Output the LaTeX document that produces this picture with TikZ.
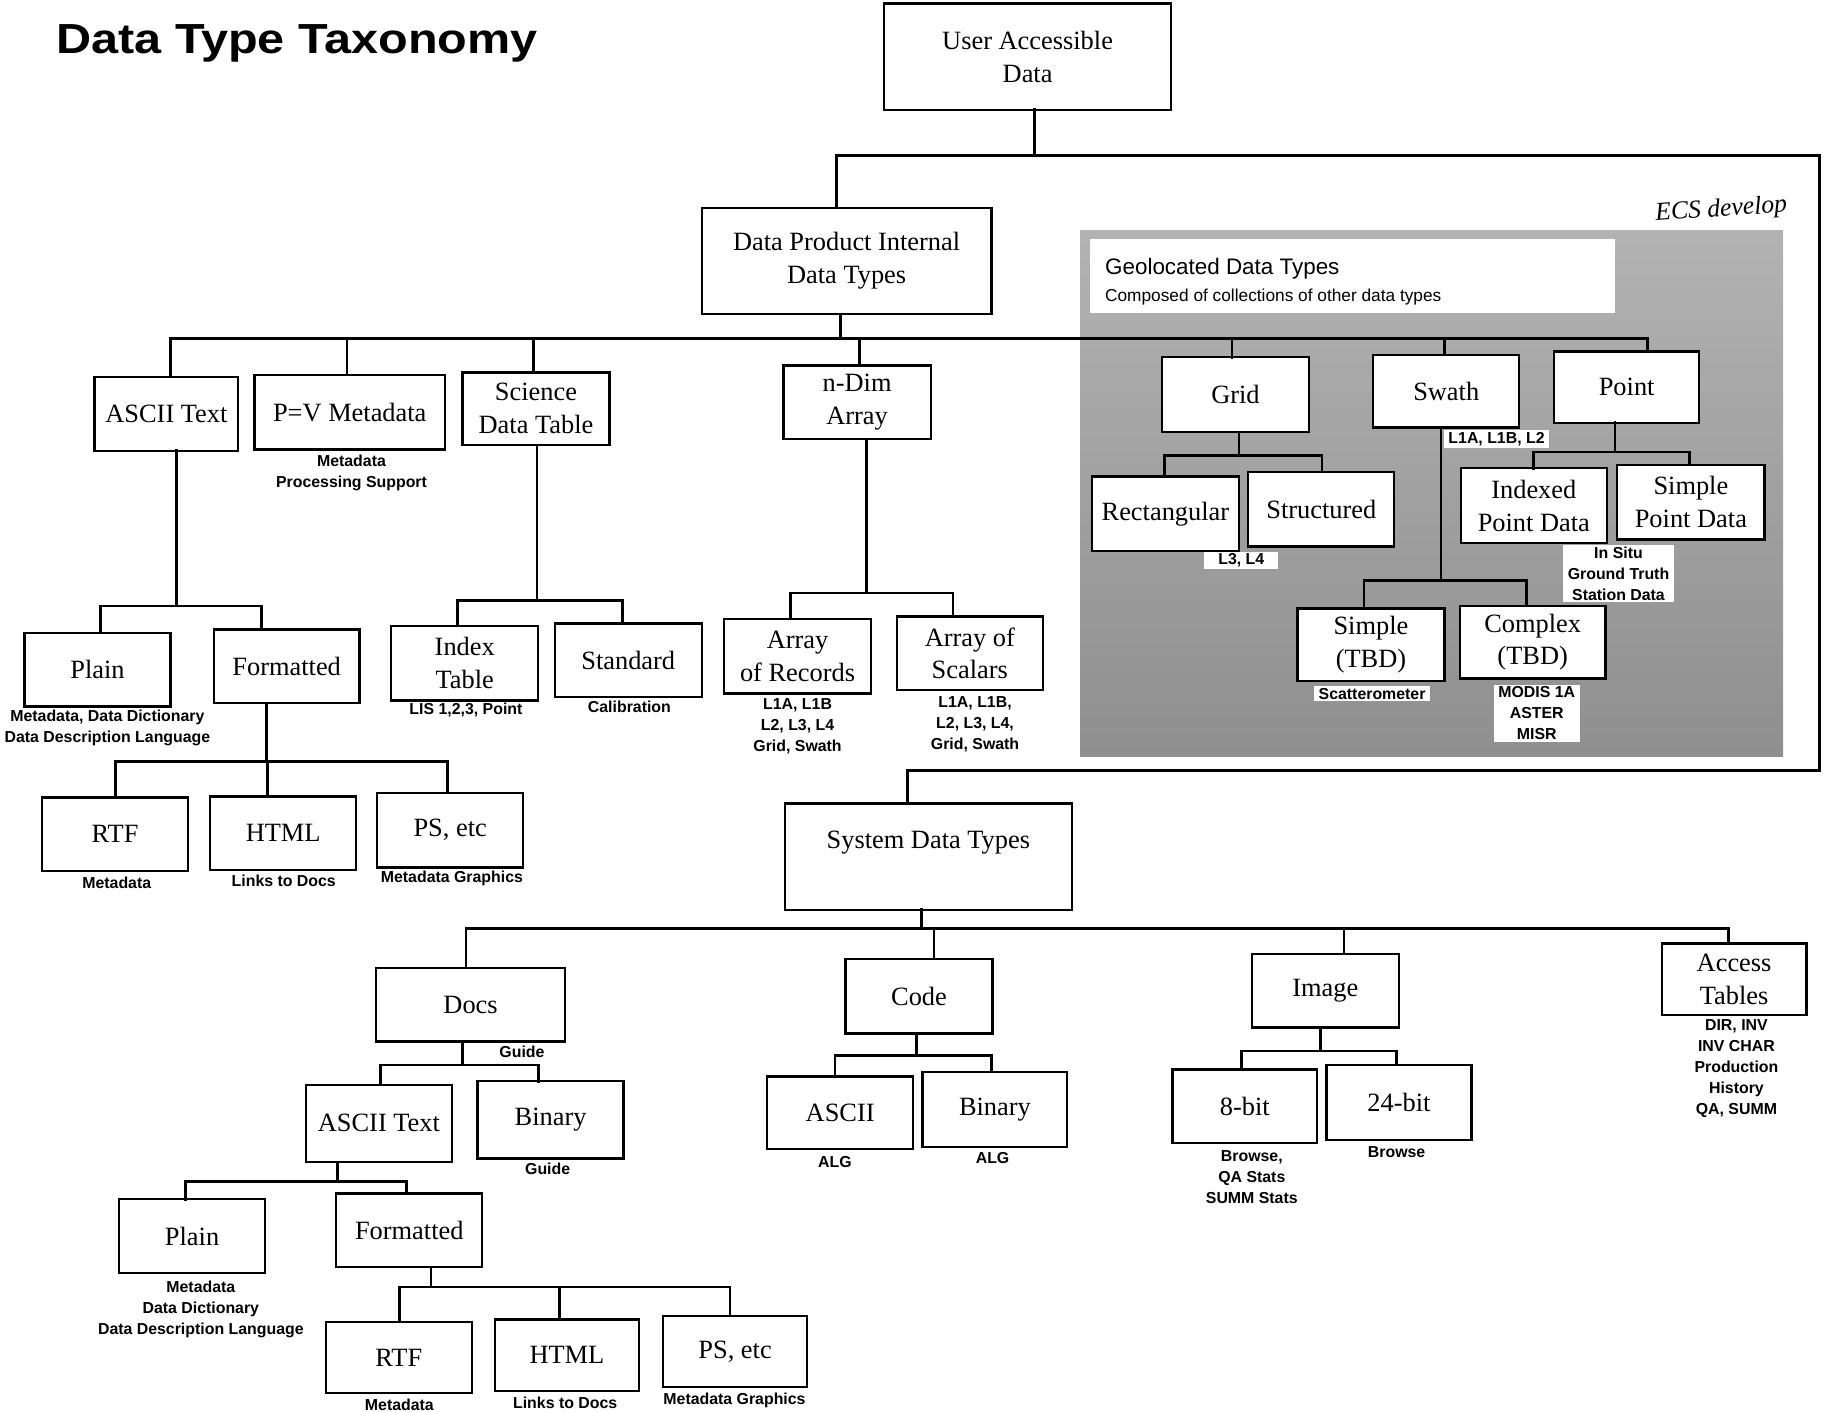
\documentclass[tikz,border=0pt]{standalone}
\usepackage{fontspec}
\setmainfont{Liberation Serif}
\setsansfont{Liberation Sans}

% a framed box given by its left, top, right and bottom edges
\newcommand\mkbox[6]{\node[box, minimum width={(#4-#2)/2}, minimum height={(#5-#3)/2}] (#1) at ({(#2+#4)/2},{(#3+#5)/2}) {#6};}
% parent drop, bus and child drops: parent, drop x, bus y, children (name/x), leftmost, rightmost
\newcommand\fan[6]{%
  \coordinate (#1-out) at (#2,#3);
  \draw[conn] (#1.south -| #1-out) -- (#1-out);
  \foreach \kid/\kx in {#4}{%
    \coordinate (\kid-in) at (\kx,#3);
    \draw[conn] (\kid-in) -- (\kid.north -| \kid-in);}
  \draw[conn] (#5-in) -- (#6-in);}

\begin{document}
\begin{tikzpicture}[x=0.5pt,y=-0.5pt,
  box/.style={draw, line width=1pt, fill=white, inner sep=0pt, outer sep=0pt,
    align=center, font=\fontsize{11.3}{14}\selectfont},
  conn/.style={line width=1.1pt, line cap=rect},
  note/.style={inner sep=0.8pt, align=center,
    font=\sffamily\bfseries\fontsize{6.8}{9}\selectfont},
  wnote/.style={note, fill=white, inner xsep=2pt}]
\useasboundingbox (0,0) rectangle (1568,1209);

% title
\node[anchor=base west, inner sep=0, font=\sffamily\bfseries\fontsize{18}{18}\selectfont]
  (title) at (48,46) {\scalebox{1.155}[1]{Data Type Taxonomy}};

% shaded panel of the geolocated types
\fill[top color=black!30, bottom color=black!44] (925,197) rectangle (1527,648);
\node[fill=white, inner sep=0, minimum width=225pt, minimum height=31.5pt] (geo) at (1158,236.5) {};
\node[anchor=west, inner sep=0, font=\sffamily\fontsize{9.6}{11}\selectfont] (geo-t) at (946,230) {Geolocated Data Types};
\node[anchor=west, inner sep=0, font=\sffamily\fontsize{7.4}{9}\selectfont] (geo-s) at (946,254) {Composed of collections of other data types};

% handwritten remark
\node[font=\itshape\fontsize{11}{11}\selectfont, rotate=4, inner sep=0] (hw) at (1474,180) {ECS develop};

% boxes
\mkbox{user}{757}{3}{1003}{94}{User Accessible\\Data}
\mkbox{dpi}{601}{178}{849}{269}{Data Product Internal\\Data Types}
\mkbox{asc1}{81}{323}{204}{386}{ASCII Text}
\mkbox{pv}{218}{321}{381}{385}{P=V Metadata}
\mkbox{sdt}{396}{319}{522}{381}{Science\\Data Table}
\mkbox{ndim}{671}{313}{797}{376}{n-Dim\\Array}
\mkbox{grid}{995}{306}{1121}{370}{Grid}
\mkbox{swath}{1176}{304}{1301}{366}{Swath}
\mkbox{point}{1331}{301}{1455}{362}{Point}
\mkbox{rect}{935}{408}{1061}{472}{Rectangular}
\mkbox{struct}{1069}{404}{1194}{468}{Structured}
\mkbox{idx}{1251}{401}{1376}{465}{Indexed\\Point Data}
\mkbox{spt}{1385}{398}{1511}{462}{Simple\\Point Data}
\mkbox{stbd}{1111}{521}{1237}{583}{Simple\\(TBD)}
\mkbox{ctbd}{1250}{519}{1375}{581}{Complex\\(TBD)}
\mkbox{plain1}{21}{542}{146}{605}{Plain}
\mkbox{fmt1}{183}{539}{308}{602}{Formatted}
\mkbox{rtf1}{36}{683}{161}{746}{RTF}
\mkbox{html1}{180}{682}{305}{745}{HTML}
\mkbox{ps1}{323}{679}{448}{743}{PS, etc}
\mkbox{itab}{335}{536}{461}{600}{Index\\Table}
\mkbox{std}{475}{534}{601}{597}{Standard}
\mkbox{arec}{620}{530}{746}{594}{Array\\of Records}
\mkbox{asca}{768}{528}{893}{591}{Array of\\Scalars}
\mkbox{sys}{672}{688}{918}{779}{System Data Types\\\mbox{}}
\mkbox{docs}{322}{829}{484}{892}{Docs}
\mkbox{code}{724}{821}{850}{885}{Code}
\mkbox{image}{1072}{817}{1198}{880}{Image}
\mkbox{acc}{1423}{808}{1547}{869}{Access\\Tables}
\mkbox{asc2}{262}{929}{387}{995}{ASCII Text}
\mkbox{bin2}{409}{926}{534}{992}{Binary}
\mkbox{plain2}{102}{1027}{227}{1090}{Plain}
\mkbox{fmt2}{288}{1022}{413}{1085}{Formatted}
\mkbox{rtf2}{279}{1132}{404}{1193}{RTF}
\mkbox{html2}{424}{1130}{547}{1191}{HTML}
\mkbox{ps2}{568}{1127}{691}{1188}{PS, etc}
\mkbox{ascii3}{657}{922}{782}{984}{ASCII}
\mkbox{bin3}{790}{918}{914}{982}{Binary}
\mkbox{b8}{1004}{916}{1128}{979}{8-bit}
\mkbox{b24}{1136}{912}{1260}{976}{24-bit}

% root connections
\coordinate (user-out) at (886,133);
\coordinate (dpi-in) at (716.5,133);
\coordinate (rim-top) at (1558,133);
\coordinate (rim-bot) at (1558,660);
\coordinate (sys-in) at (777,660);
\draw[conn] (user.south -| user-out) -- (user-out);
\draw[conn] (dpi.north -| dpi-in) -- (dpi-in) -- (rim-top) -- (rim-bot) -- (sys-in) -- (sys.north -| sys-in);

% branches
\fan{dpi}{720}{290}{asc1/146,pv/297,sdt/457,ndim/736,grid/1055,swath/1237,point/1411}{asc1}{point}
\fan{asc1}{151}{519}{plain1/86,fmt1/224}{plain1}{fmt1}
\fan{fmt1}{228}{652}{rtf1/99,html1/229,ps1/383}{rtf1}{ps1}
\fan{sdt}{460}{514}{itab/392,std/533}{itab}{std}
\fan{ndim}{742}{508}{arec/677,asca/816}{arec}{asca}
\fan{grid}{1061}{390}{rect/997,struct/1132}{rect}{struct}
\fan{swath}{1234}{497}{stbd/1168,ctbd/1307}{stbd}{ctbd}
\fan{point}{1383}{387}{idx/1313,spt/1447}{idx}{spt}
\fan{sys}{789}{795}{docs/399,code/800,image/1151,acc/1480}{docs}{acc}
\fan{docs}{396}{912}{asc2/326,bin2/461}{asc2}{bin2}
\fan{asc2}{289}{1012}{plain2/159,fmt2/348}{plain2}{fmt2}
\fan{fmt2}{369}{1102}{rtf2/342,html2/479,ps2/625}{rtf2}{ps2}
\fan{code}{785}{904}{ascii3/715,bin3/849}{ascii3}{bin3}
\fan{image}{1131}{900}{b8/1063,b24/1196}{b8}{b24}

% annotations
\node[note] (n-pv) at (301,405) {Metadata\\Processing Support};
\node[note] (n-plain1) at (92,623) {Metadata, Data Dictionary\\Data Description Language};
\node[note] (n-rtf1) at (100,756) {Metadata};
\node[note] (n-html1) at (243,754) {Links to Docs};
\node[note] (n-ps1) at (387,752) {Metadata Graphics};
\node[note] (n-itab) at (399,608) {LIS 1,2,3, Point};
\node[note] (n-std) at (539,605) {Calibration};
\node[note] (n-arec) at (683,622) {L1A, L1B\\L2, L3, L4\\Grid, Swath};
\node[note] (n-asca) at (835,620) {L1A, L1B,\\L2, L3, L4,\\Grid, Swath};
\node[wnote, inner xsep=6pt] (n-grid) at (1063,480) {L3, L4};
\node[wnote, anchor=west] (n-swath) at (1236,376) {L1A, L1B, L2};
\node[wnote] (n-point) at (1386,491) {In Situ\\Ground Truth\\Station Data};
\node[wnote] (n-stbd) at (1175,594) {Scatterometer};
\node[wnote] (n-ctbd) at (1316,611) {MODIS 1A\\ASTER\\MISR};
\node[note] (n-docs) at (447,901) {Guide};
\node[note] (n-bin2) at (469,1001) {Guide};
\node[note] (n-plain2) at (172,1121) {Metadata\\Data Dictionary\\Data Description Language};
\node[note] (n-rtf2) at (342,1203) {Metadata};
\node[note] (n-html2) at (484,1201) {Links to Docs};
\node[note] (n-ps2) at (629,1199) {Metadata Graphics};
\node[note] (n-ascii3) at (715,995) {ALG};
\node[note] (n-bin3) at (850,992) {ALG};
\node[note] (n-b8) at (1072,1008) {Browse,\\QA Stats\\SUMM Stats};
\node[note] (n-b24) at (1196,987) {Browse};
\node[note] (n-acc) at (1487,915) {DIR, INV\\INV CHAR\\Production\\History\\QA, SUMM};
\end{tikzpicture}
\end{document}
